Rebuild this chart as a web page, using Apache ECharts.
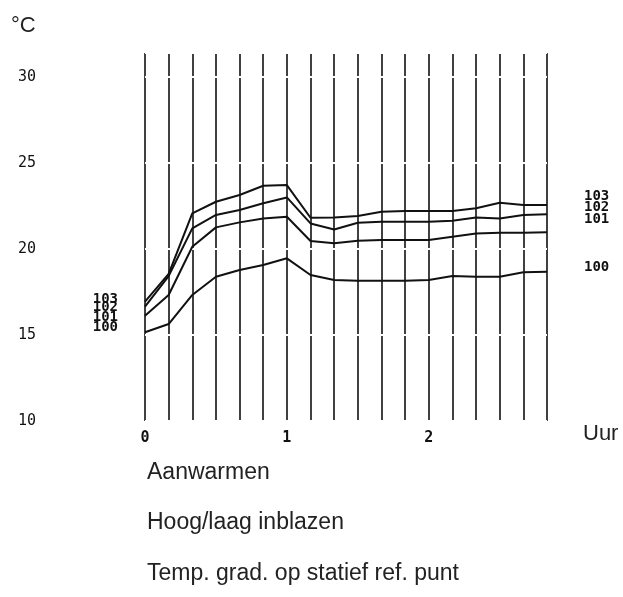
<!DOCTYPE html>
<html><head><meta charset="utf-8">
<script src="https://cdn.jsdelivr.net/npm/echarts@6/dist/echarts.min.js"></script>
<style>html,body{margin:0;padding:0;background:#fff}#c{width:623px;height:597px}</style>
</head><body><div id="c"></div>
<script>
var minutes = [0,10,20,30,40,50,60,70,80,90,100,110,120,130,140,150,160,170];
var s103 = [16.94,18.55,22.07,22.75,23.14,23.68,23.72,21.82,21.84,21.92,22.17,22.21,22.21,22.21,22.37,22.69,22.56,22.56];
var s102 = [16.65,18.43,21.20,21.98,22.27,22.66,23.00,21.49,21.14,21.53,21.59,21.59,21.59,21.65,21.84,21.78,21.98,22.02];
var s101 = [16.12,17.33,20.13,21.26,21.55,21.78,21.88,20.47,20.33,20.48,20.52,20.52,20.52,20.72,20.91,20.95,20.95,20.97];
var s100 = [15.16,15.64,17.33,18.39,18.78,19.07,19.46,18.49,18.20,18.16,18.16,18.16,18.20,18.43,18.39,18.39,18.65,18.68];
var seriesNames = ['103','102','101','100'];
var seriesVals = [s103, s102, s101, s100];
var xTickLabels = {0:'0',60:'1',120:'2'};
var yTickLabels = [10,15,20,25,30];

var leftOff = [[0,-2],[0,1],[0,2],[0,-5]];
var rightOff = [[0,-9],[0,-7],[0,-13],[0,-4]];
var digitFont = {fontFamily:'DejaVu Sans Mono', fontSize:14, fontWeight:'bold', color:'#111'};

var series = seriesVals.map(function(vals, si){
  var data = vals.map(function(v, i){
    var item = {value:[minutes[i], v]};
    if (i === 0) item.label = Object.assign({show:true, position:'left', distance:27, offset:leftOff[si], formatter:seriesNames[si]}, digitFont);
    if (i === vals.length-1) item.label = Object.assign({show:true, position:'right', distance:37, offset:rightOff[si], formatter:seriesNames[si]}, digitFont);
    return item;
  });
  return {name:seriesNames[si], type:'line', data:data, symbol:'circle', symbolSize:0, showSymbol:true,
    label:{show:false}, lineStyle:{color:'#111', width:2}, silent:true, animation:false};
});

var chart = echarts.init(document.getElementById('c'), null, {renderer:'canvas'});
chart.setOption({
  animation:false,
  backgroundColor:'#fff',
  grid:{left:145, right:76, top:53, bottom:176},
  title:[{text:'°C', left:6, top:10, textStyle:{fontFamily:'Liberation Sans', fontSize:22, fontWeight:'normal', color:'#222'}}],
  xAxis:{type:'value', min:0, max:170, interval:10,
    axisLine:{show:false}, axisTick:{show:false},
    splitLine:{show:true, lineStyle:{color:'#111', width:1.6}},
    axisLabel:{margin:10, fontFamily:'DejaVu Sans Mono', fontSize:15, fontWeight:'bold', color:'#111',
      formatter:function(v){ return xTickLabels[v] !== undefined ? xTickLabels[v] : ''; }}
  },
  yAxis:{type:'value', min:10, max:31.4, interval:5, z:1,
    axisLine:{show:false}, axisTick:{show:false},
    splitLine:{show:true, lineStyle:{color:'#fff', width:2}},
    axisLabel:{align:'left', margin:127, fontFamily:'DejaVu Sans Mono', fontSize:15, color:'#111',
      showMaxLabel:false,
      formatter:function(v){ return yTickLabels.indexOf(v) >= 0 ? String(v) : ''; }}
  },
  graphic:[
    {type:'text', left:583, top:423, style:{text:'Uur', font:'22px "Liberation Sans"', fill:'#222'}},
    {type:'text', left:147, top:461, style:{text:'Aanwarmen', font:'23px "Liberation Sans"', fill:'#222'}},
    {type:'text', left:147, top:511, style:{text:'Hoog/laag inblazen', font:'23px "Liberation Sans"', fill:'#222'}},
    {type:'text', left:147, top:562, style:{text:'Temp. grad. op statief ref. punt', font:'23px "Liberation Sans"', fill:'#222'}}
  ],
  series:series
});
</script>
</body></html>
